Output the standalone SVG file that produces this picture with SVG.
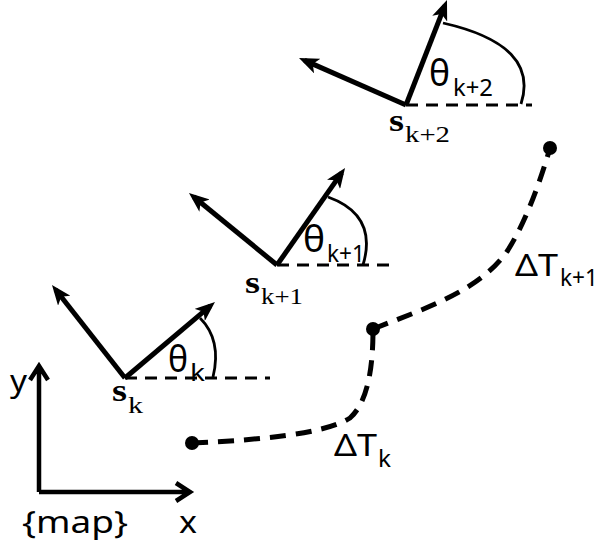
<svg xmlns="http://www.w3.org/2000/svg" width="599" height="550" viewBox="0 0 599 550">
<style>
.ax{stroke:#000;stroke-width:5;fill:none;stroke-linecap:butt}
.ax2{stroke:#000;stroke-width:4.5;fill:none}
.ref{stroke:#000;stroke-width:3;stroke-dasharray:12 8;fill:none}
.arc{stroke:#000;stroke-width:2.8;fill:none}
.traj{stroke:#000;stroke-width:5;stroke-dasharray:16 10;fill:none}
.sans{font-family:"Noto Sans","Open Sans",sans-serif;fill:#000}
.serif{font-family:"Liberation Serif","Times New Roman",serif;fill:#000}
.th{font-size:37px}
.dt{font-size:30px}
.sub{font-size:24px}
.sb{font-weight:bold;font-size:31px}
.ss{font-size:23px}
.lab{font-size:31px}
</style>
<defs>
<marker id="ah" viewBox="0 0 20 16" refX="14" refY="8" markerWidth="20" markerHeight="16" markerUnits="userSpaceOnUse" orient="auto">
<path d="M0,0 L20,8 L0,16 L5,8 Z" fill="#000"/>
</marker>
</defs>
<g id="connectors">
<path class="traj" d="M192,443 C260,440 325,434 350,418 C370,400 373,360 373,329"/>
<path class="traj" d="M373,329 C420,310 480,292 508,250 C530,215 545,165 550,148"/>
</g>
<g id="dot-k"><circle cx="192" cy="443" r="7" fill="#000"/></g>
<g id="dot-k1"><circle cx="373" cy="329" r="7" fill="#000"/></g>
<g id="dot-k2"><circle cx="550" cy="148" r="7" fill="#000"/></g>
<g id="frame-k">
<line class="ref" x1="125" y1="378" x2="270" y2="378"/>
<line class="ax" x1="125" y1="378" x2="210.4" y2="305.9" marker-end="url(#ah)"/>
<line class="ax" x1="125" y1="378" x2="55.7" y2="289.7" marker-end="url(#ah)"/>
<path class="arc" d="M200,318 Q222,340 213,377"/>
<text class="sans th" x="168" y="372" textLength="20" lengthAdjust="spacingAndGlyphs">θ</text><text class="sans sub" x="190" y="381" textLength="15" lengthAdjust="spacingAndGlyphs">k</text>
<text class="serif sb" x="112" y="401" textLength="15" lengthAdjust="spacingAndGlyphs">s</text><text class="serif ss" x="128" y="413" textLength="15" lengthAdjust="spacingAndGlyphs">k</text>
</g>
<g id="frame-k1">
<line class="ref" x1="277" y1="265" x2="395" y2="265"/>
<line class="ax" x1="277" y1="265" x2="341.6" y2="172.9" marker-end="url(#ah)"/>
<line class="ax" x1="277" y1="265" x2="193.6" y2="196.8" marker-end="url(#ah)"/>
<path class="arc" d="M328,197 Q378,215 363,265"/>
<text class="sans th" x="303" y="252" textLength="22" lengthAdjust="spacingAndGlyphs">θ</text><text class="sans sub" x="327" y="262" textLength="38" lengthAdjust="spacingAndGlyphs">k+1</text>
<text class="serif sb" x="245" y="293" textLength="15" lengthAdjust="spacingAndGlyphs">s</text><text class="serif ss" x="261" y="304" textLength="42" lengthAdjust="spacingAndGlyphs">k+1</text>
</g>
<g id="frame-k2">
<line class="ref" x1="406" y1="105" x2="532" y2="105"/>
<line class="ax" x1="406" y1="105" x2="444.8" y2="5.6" marker-end="url(#ah)"/>
<line class="ax" x1="406" y1="105" x2="304.5" y2="60.4" marker-end="url(#ah)"/>
<path class="arc" d="M443,23 Q540,45 521,104"/>
<text class="sans th" x="429" y="86" textLength="21" lengthAdjust="spacingAndGlyphs">θ</text><text class="sans sub" x="453" y="96" textLength="40" lengthAdjust="spacingAndGlyphs">k+2</text>
<text class="serif sb" x="389" y="131" textLength="15" lengthAdjust="spacingAndGlyphs">s</text><text class="serif ss" x="405" y="142" textLength="45" lengthAdjust="spacingAndGlyphs">k+2</text>
</g>
<g id="label-dTk1"><text class="sans dt" x="515" y="276" textLength="43" lengthAdjust="spacingAndGlyphs">ΔT</text><text class="sans sub" x="560" y="286" textLength="38" lengthAdjust="spacingAndGlyphs">k+1</text></g>
<g id="label-dTk"><text class="sans dt" x="334" y="456" textLength="43" lengthAdjust="spacingAndGlyphs">ΔT</text><text class="sans sub" x="378" y="467" textLength="13" lengthAdjust="spacingAndGlyphs">k</text></g>
<g id="axes">
<path class="ax2" d="M39,492 L39,366 M30,380 L39,366 L48,380"/>
<path class="ax2" d="M39,492 L190,492 M176,483 L190,492 L176,501"/>
<text class="sans lab" x="10" y="392" textLength="17" lengthAdjust="spacingAndGlyphs">y</text>
<text class="sans lab" x="22" y="533" textLength="106" lengthAdjust="spacingAndGlyphs">{map}</text>
<text class="sans lab" x="179" y="533" textLength="18" lengthAdjust="spacingAndGlyphs">x</text>
</g>
</svg>
